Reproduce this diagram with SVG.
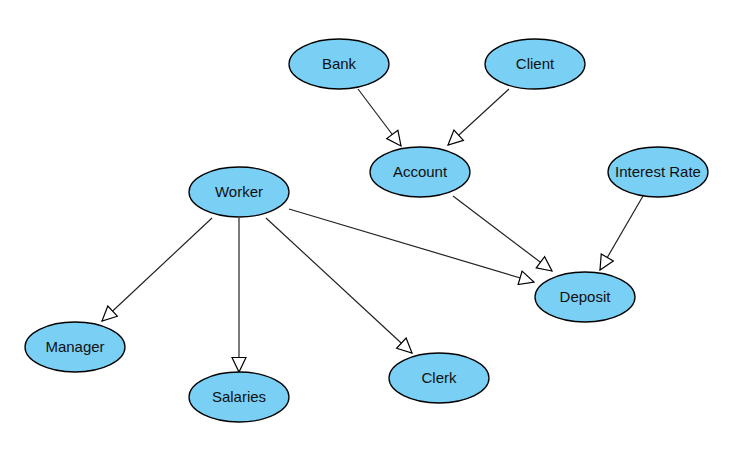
<svg xmlns="http://www.w3.org/2000/svg" width="729" height="467" viewBox="0 0 729 467">
<style>
.node ellipse{fill:#7ACFF5;stroke:#000;stroke-width:1.3}
.node text{font-family:"Liberation Sans",Arial,sans-serif;font-size:15px;fill:#111;text-anchor:middle;dominant-baseline:central}
.edge{stroke:#222;stroke-width:1.2;fill:none;marker-end:url(#arr)}
</style>
<defs>
<marker id="arr" markerUnits="userSpaceOnUse" markerWidth="17" markerHeight="16" refX="15.5" refY="8" orient="auto" viewBox="0 0 17 16">
<path d="M1,1 L15.5,8 L1,15 z" fill="#fff" stroke="#000" stroke-width="1.2"/>
</marker>
</defs>
<rect width="729" height="467" fill="#fff"/>
<g id="connectors">
<line class="edge" x1="358" y1="89" x2="401" y2="146"/>
<line class="edge" x1="509" y1="89" x2="448" y2="145"/>
<line class="edge" x1="453" y1="196" x2="552" y2="271"/>
<line class="edge" x1="643" y1="196" x2="600" y2="270"/>
<line class="edge" x1="289" y1="209" x2="534" y2="282"/>
<line class="edge" x1="212" y1="218" x2="102" y2="321"/>
<line class="edge" x1="239" y1="218" x2="239" y2="372"/>
<line class="edge" x1="266" y1="218" x2="412" y2="353"/>
</g>
<g id="bank" class="node"><ellipse cx="339" cy="64" rx="50" ry="25"/><text x="339" y="63">Bank</text></g>
<g id="client" class="node"><ellipse cx="535" cy="64" rx="50" ry="25"/><text x="535" y="63">Client</text></g>
<g id="account" class="node"><ellipse cx="420" cy="172" rx="50" ry="25"/><text x="420" y="171">Account</text></g>
<g id="interest-rate" class="node"><ellipse cx="658" cy="172" rx="50" ry="25"/><text x="658" y="171">Interest Rate</text></g>
<g id="worker" class="node"><ellipse cx="239" cy="192" rx="50" ry="25"/><text x="239" y="191">Worker</text></g>
<g id="deposit" class="node"><ellipse cx="585" cy="297" rx="50" ry="25"/><text x="585" y="296">Deposit</text></g>
<g id="manager" class="node"><ellipse cx="75" cy="347" rx="50" ry="25"/><text x="75" y="346">Manager</text></g>
<g id="salaries" class="node"><ellipse cx="239" cy="397" rx="50" ry="25"/><text x="239" y="396">Salaries</text></g>
<g id="clerk" class="node"><ellipse cx="439" cy="378" rx="50" ry="25"/><text x="439" y="377">Clerk</text></g>
</svg>
